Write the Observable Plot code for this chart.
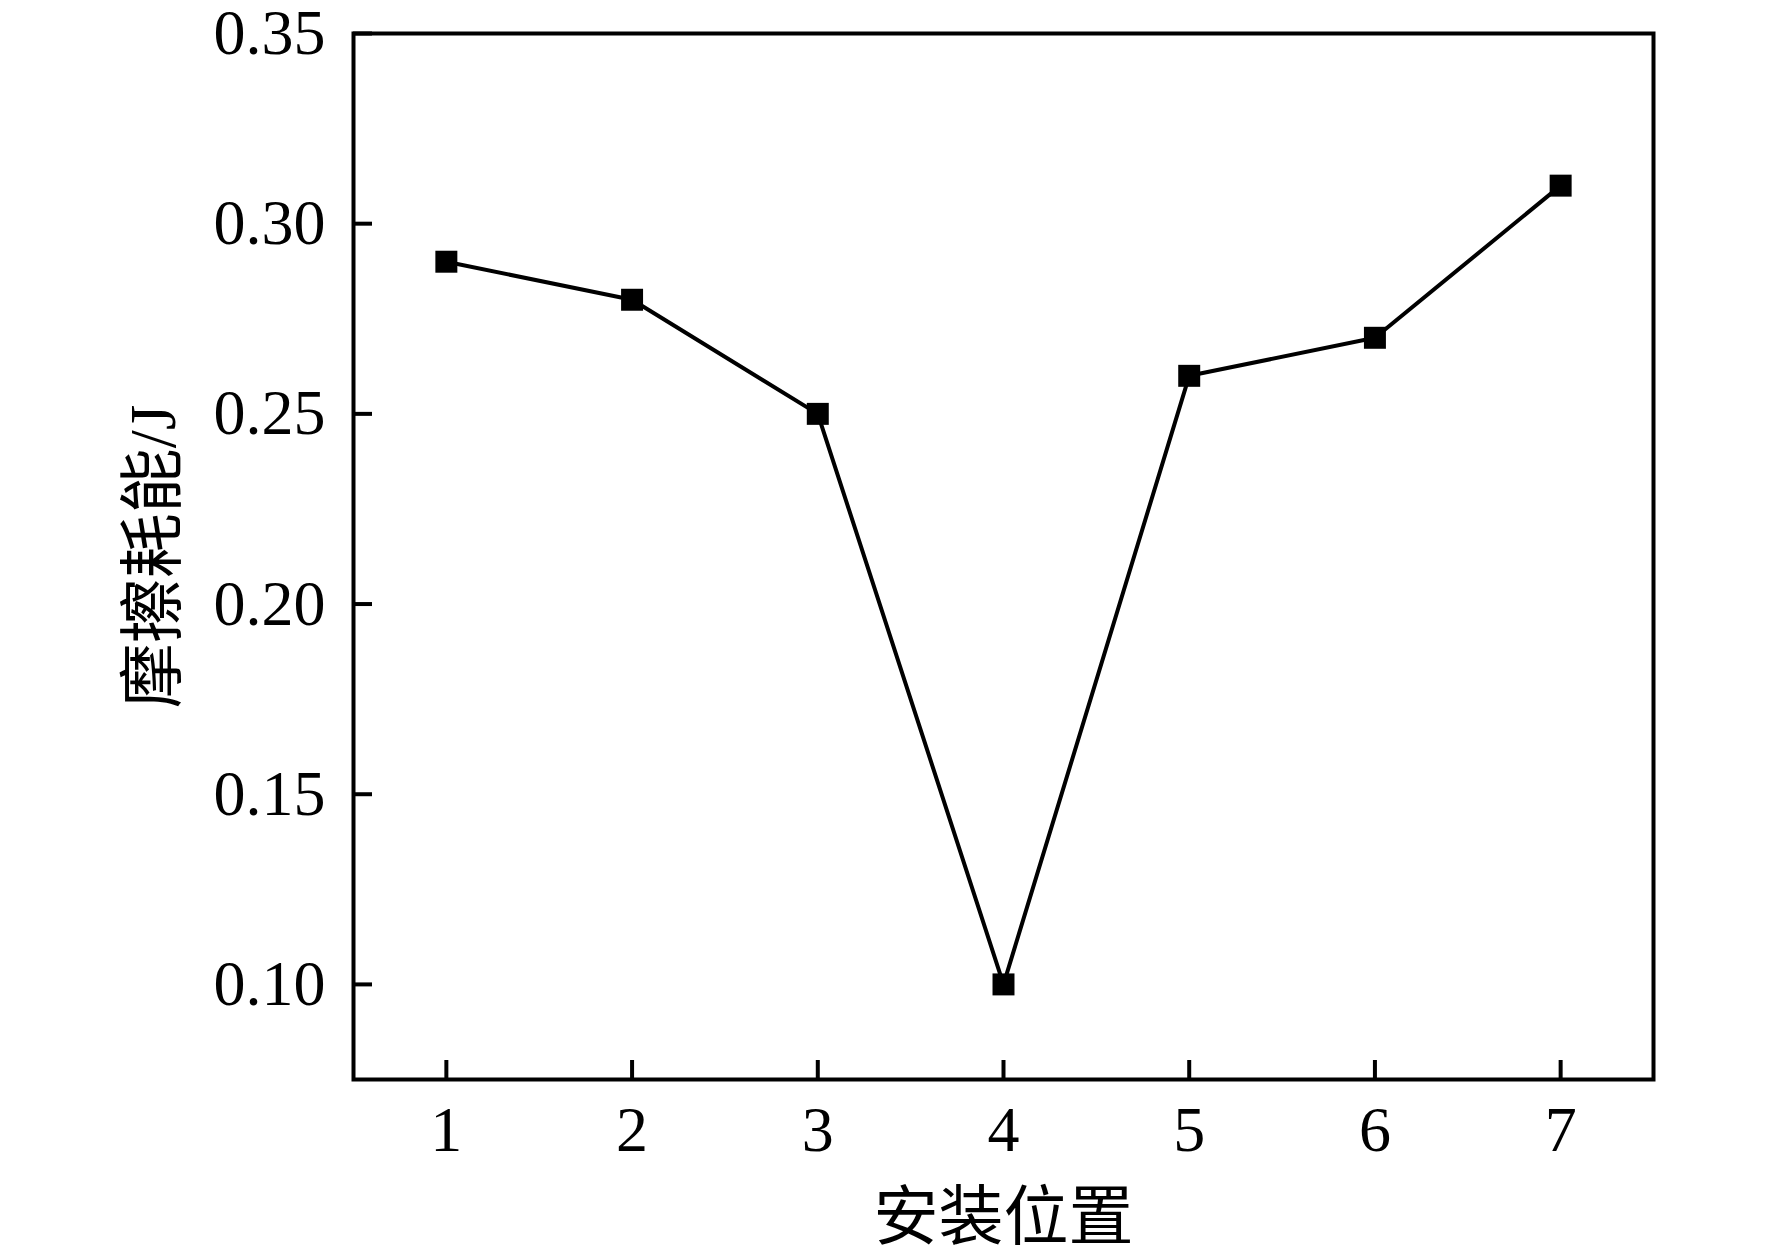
<!DOCTYPE html>
<html><head><meta charset="utf-8">
<script src="https://cdn.jsdelivr.net/npm/d3@7"></script>
<script src="https://cdn.jsdelivr.net/npm/@observablehq/plot@0.6"></script>
<style>html,body{margin:0;padding:0;background:#fff}</style>
</head><body><div id="chart"></div>
<script>
const positions = [1, 2, 3, 4, 5, 6, 7];
const energy = [0.29, 0.28, 0.25, 0.10, 0.26, 0.27, 0.31];
const xTicks = [1, 2, 3, 4, 5, 6, 7];
const yTicks = [0.10, 0.15, 0.20, 0.25, 0.30, 0.35];
const xLabel = "安装位置";
const yLabel = "摩擦耗能/J";

const data = positions.map((p, i) => ({position: p, energy: energy[i]}));
const font = '"Liberation Serif","Times New Roman","Noto Sans CJK SC",serif';

const chart = Plot.plot({
  width: 1772,
  height: 1257,
  marginLeft: 353,
  marginRight: 119,
  marginTop: 33,
  marginBottom: 178,
  style: {fontFamily: font, fontSize: "64px", color: "#000", background: "#fff", overflow: "visible"},
  x: {domain: [0.5, 7.5]},
  y: {domain: [0.075, 0.35]},
  marks: [
    Plot.line(data, {x: "position", y: "energy", stroke: "#000", strokeWidth: 4}),
    Plot.dot(data, {x: "position", y: "energy", symbol: "square", r: 12.4, fill: "#000", stroke: "none"}),
    Plot.axisX(xTicks, {tickSize: 0, tickPadding: 26, fontSize: 64, label: null, tickFormat: d => String(d)}),
    Plot.axisX(xTicks, {tickSize: -19, strokeWidth: 4, tickFormat: () => "", label: null}),
    Plot.axisY(yTicks, {tickSize: 0, tickPadding: 28, fontSize: 64, label: null, tickFormat: d3.format(".2f")}),
    Plot.axisY(yTicks, {tickSize: -19, strokeWidth: 4, tickFormat: () => "", label: null}),
    Plot.frame({stroke: "#000", strokeWidth: 4}),
    Plot.text([xLabel], {frameAnchor: "bottom", dy: 139, text: d => d, fontSize: 65, fontFamily: font, lineAnchor: "middle", textAnchor: "middle", fill: "#000"}),
    Plot.text([yLabel], {frameAnchor: "left", dx: -199, rotate: -90, text: d => d, fontSize: 65, fontFamily: font, lineAnchor: "middle", textAnchor: "middle", fill: "#000"})
  ]
});
document.getElementById("chart").appendChild(chart);
</script>
</body></html>
